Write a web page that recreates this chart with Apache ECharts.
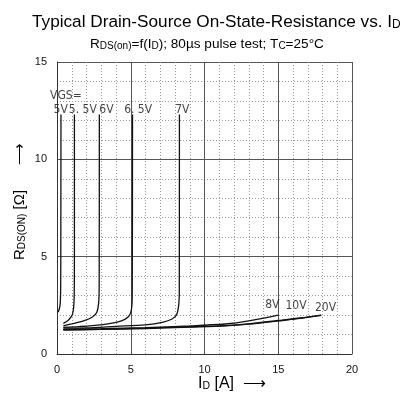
<!DOCTYPE html>
<html><head><meta charset="utf-8">
<script src="https://cdn.jsdelivr.net/npm/echarts@6/dist/echarts.min.js"></script>
<style>html,body{margin:0;padding:0;background:#fff}#c{width:404px;height:400px}</style>
</head><body><div id="c"></div>
<script>
// Data: [I_D (A), R_DS(on) (ohm)]
const vgs5V   = [[0.07,2.15],[0.15,2.3],[0.22,2.6],[0.25,3.5],[0.26,6],[0.27,12.3]];
const vgs5_5V = [[0.43,1.57],[0.7,1.7],[0.9,1.85],[1.05,2.05],[1.13,2.4],[1.17,3.2],[1.18,5],[1.18,12.3]];
const vgs6V   = [[0.43,1.45],[1.0,1.55],[1.8,1.7],[2.4,1.9],[2.7,2.15],[2.82,2.6],[2.86,3.5],[2.87,12.3]];
const vgs6_5V = [[0.43,1.37],[1.5,1.41],[3.0,1.5],[4.0,1.62],[4.6,1.78],[4.9,1.97],[5.05,2.3],[5.1,3],[5.12,12.3]];
const vgs7V   = [[0.43,1.33],[2,1.34],[4,1.42],[6,1.5],[7.2,1.64],[7.8,1.8],[8.1,2.0],[8.25,2.5],[8.29,3.2],[8.3,12.3]];
const vgs8V   = [[0.43,1.27],[3,1.30],[6,1.36],[9,1.44],[11.4,1.54],[13,1.7],[15,2.0]];
const vgs10V  = [[0.43,1.25],[3,1.28],[6,1.33],[9,1.40],[11.4,1.46],[13,1.55],[15,1.72],[16.5,1.85],[17.9,2.0]];
const vgs20V  = [[0.43,1.23],[3,1.26],[6,1.31],[9,1.38],[11.4,1.44],[13,1.53],[15,1.70],[16.5,1.83],[17.9,1.98]];
const seriesData = [vgs5V, vgs5_5V, vgs6V, vgs6_5V, vgs7V, vgs8V, vgs10V, vgs20V];
const xTicks = [0,5,10,15,20];
const yTicks = [0,5,10,15];
// curve labels: [text, I, R]
const curveLabels = [['VGS=',0.6,13.25],['5V',0.25,12.55],['5. 5V',1.75,12.55],['6V',3.35,12.55],['6. 5V',5.5,12.55],['7V',8.5,12.55],['8V',14.6,2.5],['10V',16.2,2.45],['20V',18.2,2.35]];

const chart = echarts.init(document.getElementById('c'));
const F = '"Liberation Sans", Arial, sans-serif';
const NF = '"Liberation Sans Narrow", "DejaVu Sans Condensed", sans-serif';
const series = seriesData.map(d => ({
  type:'line', data:d, showSymbol:false, smooth:0.3,
  lineStyle:{color:'#111', width:1.3}, silent:true, animation:false
}));
series.push({
  type:'scatter', data:curveLabels.map(l=>[l[1],l[2],l[0]]), symbolSize:0, silent:true, animation:false,
  label:{show:true, position:'inside', formatter:p=>p.data[2], fontFamily:NF, fontSize:12, color:'#111'}
});
chart.setOption({
  animation:false,
  grid:{left:57, right:52, top:62, bottom:46},
  xAxis:{type:'value', min:0, max:20, interval:5,
    axisLine:{show:true, onZero:false, lineStyle:{color:'#333'}}, axisTick:{show:false},
    axisLabel:{fontFamily:F, fontSize:11, color:'#111', margin:10},
    splitLine:{show:true, lineStyle:{color:'#555', width:1}},
    minorTick:{show:false, splitNumber:5},
    minorSplitLine:{show:true, lineStyle:{color:'#999', type:[1,2], width:1}}},
  yAxis:{type:'value', min:0, max:15, interval:5,
    axisLine:{show:true, lineStyle:{color:'#333'}}, axisTick:{show:false},
    axisLabel:{fontFamily:F, fontSize:11, color:'#111', margin:10},
    splitLine:{show:true, lineStyle:{color:'#555', width:1}},
    minorTick:{show:false, splitNumber:5},
    minorSplitLine:{show:true, lineStyle:{color:'#999', type:[1,2], width:1}}},
  graphic:[
    {type:'text', x:32, y:10, style:{
      text:'{m|Typical Drain-Source On-State-Resistance vs. I}{s|D}',
      rich:{m:{fontFamily:F, fontSize:17.2, fill:'#000', lineHeight:21, verticalAlign:'bottom'},
            s:{fontFamily:F, fontSize:12, fill:'#000', lineHeight:17, verticalAlign:'bottom'}}}},
    {type:'text', x:90, y:35, style:{
      text:'{m|R}{s|DS(on)}{m|=f(I}{s|D}{m|); 80µs pulse test; T}{s|C}{m|=25°C}',
      rich:{m:{fontFamily:F, fontSize:13.6, fill:'#000', lineHeight:16, verticalAlign:'bottom'},
            s:{fontFamily:F, fontSize:10, fill:'#000', lineHeight:12, verticalAlign:'bottom'}}}},
    {type:'text', x:198, y:373, style:{
      text:'{m|I}{s|D}{m| [A]  ⟶}',
      rich:{m:{fontFamily:F, fontSize:16, fill:'#000', lineHeight:19, verticalAlign:'bottom'},
            s:{fontFamily:F, fontSize:10.5, fill:'#000', lineHeight:13, verticalAlign:'bottom'}}}},
    {type:'text', x:9, y:260, rotation:Math.PI/2, style:{
      text:'{m|R}{s|DS(ON)}{m| [Ω]      ⟶}',
      rich:{m:{fontFamily:F, fontSize:15, fill:'#000', lineHeight:18, verticalAlign:'bottom'},
            s:{fontFamily:F, fontSize:10, fill:'#000', lineHeight:13, verticalAlign:'bottom'}}}}
  ],
  series:series
});
</script></body></html>
